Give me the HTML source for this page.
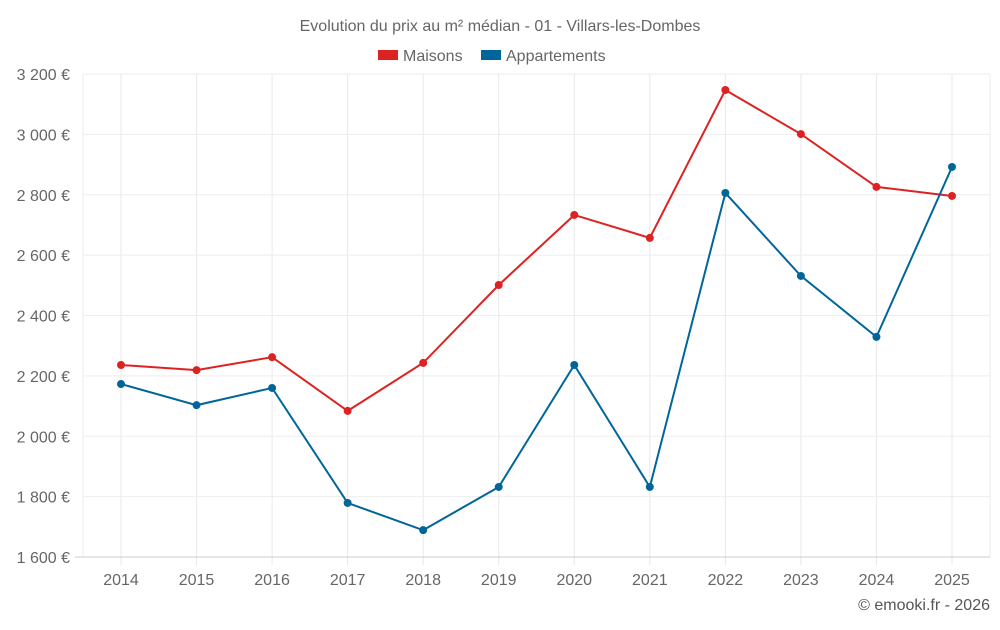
<!DOCTYPE html>
<html><head><meta charset="utf-8"><style>
body{margin:0;background:#fff;font-family:"Liberation Sans",sans-serif;}
svg text{font-family:"Liberation Sans",sans-serif;}
</style></head><body>
<svg id="c" width="1000" height="625">
<text x="500" y="31" text-anchor="middle" font-size="16" fill="#666">Evolution du prix au m² médian - 01 - Villars-les-Dombes</text>
<g><rect x="378" y="50" width="20" height="10" fill="#dd2222"/><text x="403" y="61" font-size="16" fill="#666">Maisons</text></g>
<g><rect x="481" y="50" width="20" height="10" fill="#006699"/><text x="506" y="61" font-size="16" fill="#666">Appartements</text></g>
<g id="grid"></g><g id="series"></g>
<text x="990" y="610" text-anchor="end" font-size="16" fill="#555">© emooki.fr - 2026</text>
</svg>
<script>
const years=[2014,2015,2016,2017,2018,2019,2020,2021,2022,2023,2024,2025];
const maisons=[2236,2219,2262,2084,2243,2501,2733,2657,3147,3001,2826,2796];
const apparts=[2173,2103,2160,1779,1689,1832,2236,1832,2806,2531,2329,2892];
const yTicks=[1600,1800,2000,2200,2400,2600,2800,3000,3200];
const NS="http://www.w3.org/2000/svg";
const L=83,R=990,T=74,B=557;
const x=i=>121+i*(952-121)/(years.length-1);
const y=v=>B-(v-1600)/(1600)*(B-T);
function el(t,a,p){const e=document.createElementNS(NS,t);for(const k in a)e.setAttribute(k,a[k]);p.appendChild(e);return e;}
const g=document.getElementById('grid');
el('line',{x1:L,x2:L,y1:T,y2:B,stroke:'#eee'},g);
el('line',{x1:R,x2:R,y1:T,y2:B,stroke:'#eee'},g);
years.forEach((yr,i)=>{const l=el('line',{x1:x(i),x2:x(i),y1:T,y2:B+8,stroke:'#e8e8e8'},g);


const t=el('text',{x:x(i),y:585,'text-anchor':'middle','font-size':16,fill:'#666'},g);t.textContent=yr;

});
yTicks.forEach(v=>{const l=el('line',{x1:v===1600?75:L,x2:R,y1:y(v),y2:y(v),stroke:v===1600?'#ccc':'#eee'},g);


const t=el('text',{x:70,y:y(v)+6,'text-anchor':'end','font-size':16,fill:'#666'},g);t.textContent=v.toString().replace(/\B(?=(\d{3})+$)/,' ')+' €';

});
const s=document.getElementById('series');
[[maisons,'#dd2222','maisons'],[apparts,'#006699','appartements']].forEach(([d,c,n])=>{
const p=el('polyline',{points:d.map((v,i)=>x(i)+','+y(v)).join(' '),fill:'none',stroke:c,'stroke-width':2},s);


d.forEach((v,i)=>{const ci=el('circle',{cx:x(i),cy:y(v),r:4,fill:c},s);

});});
</script>
</body></html>
